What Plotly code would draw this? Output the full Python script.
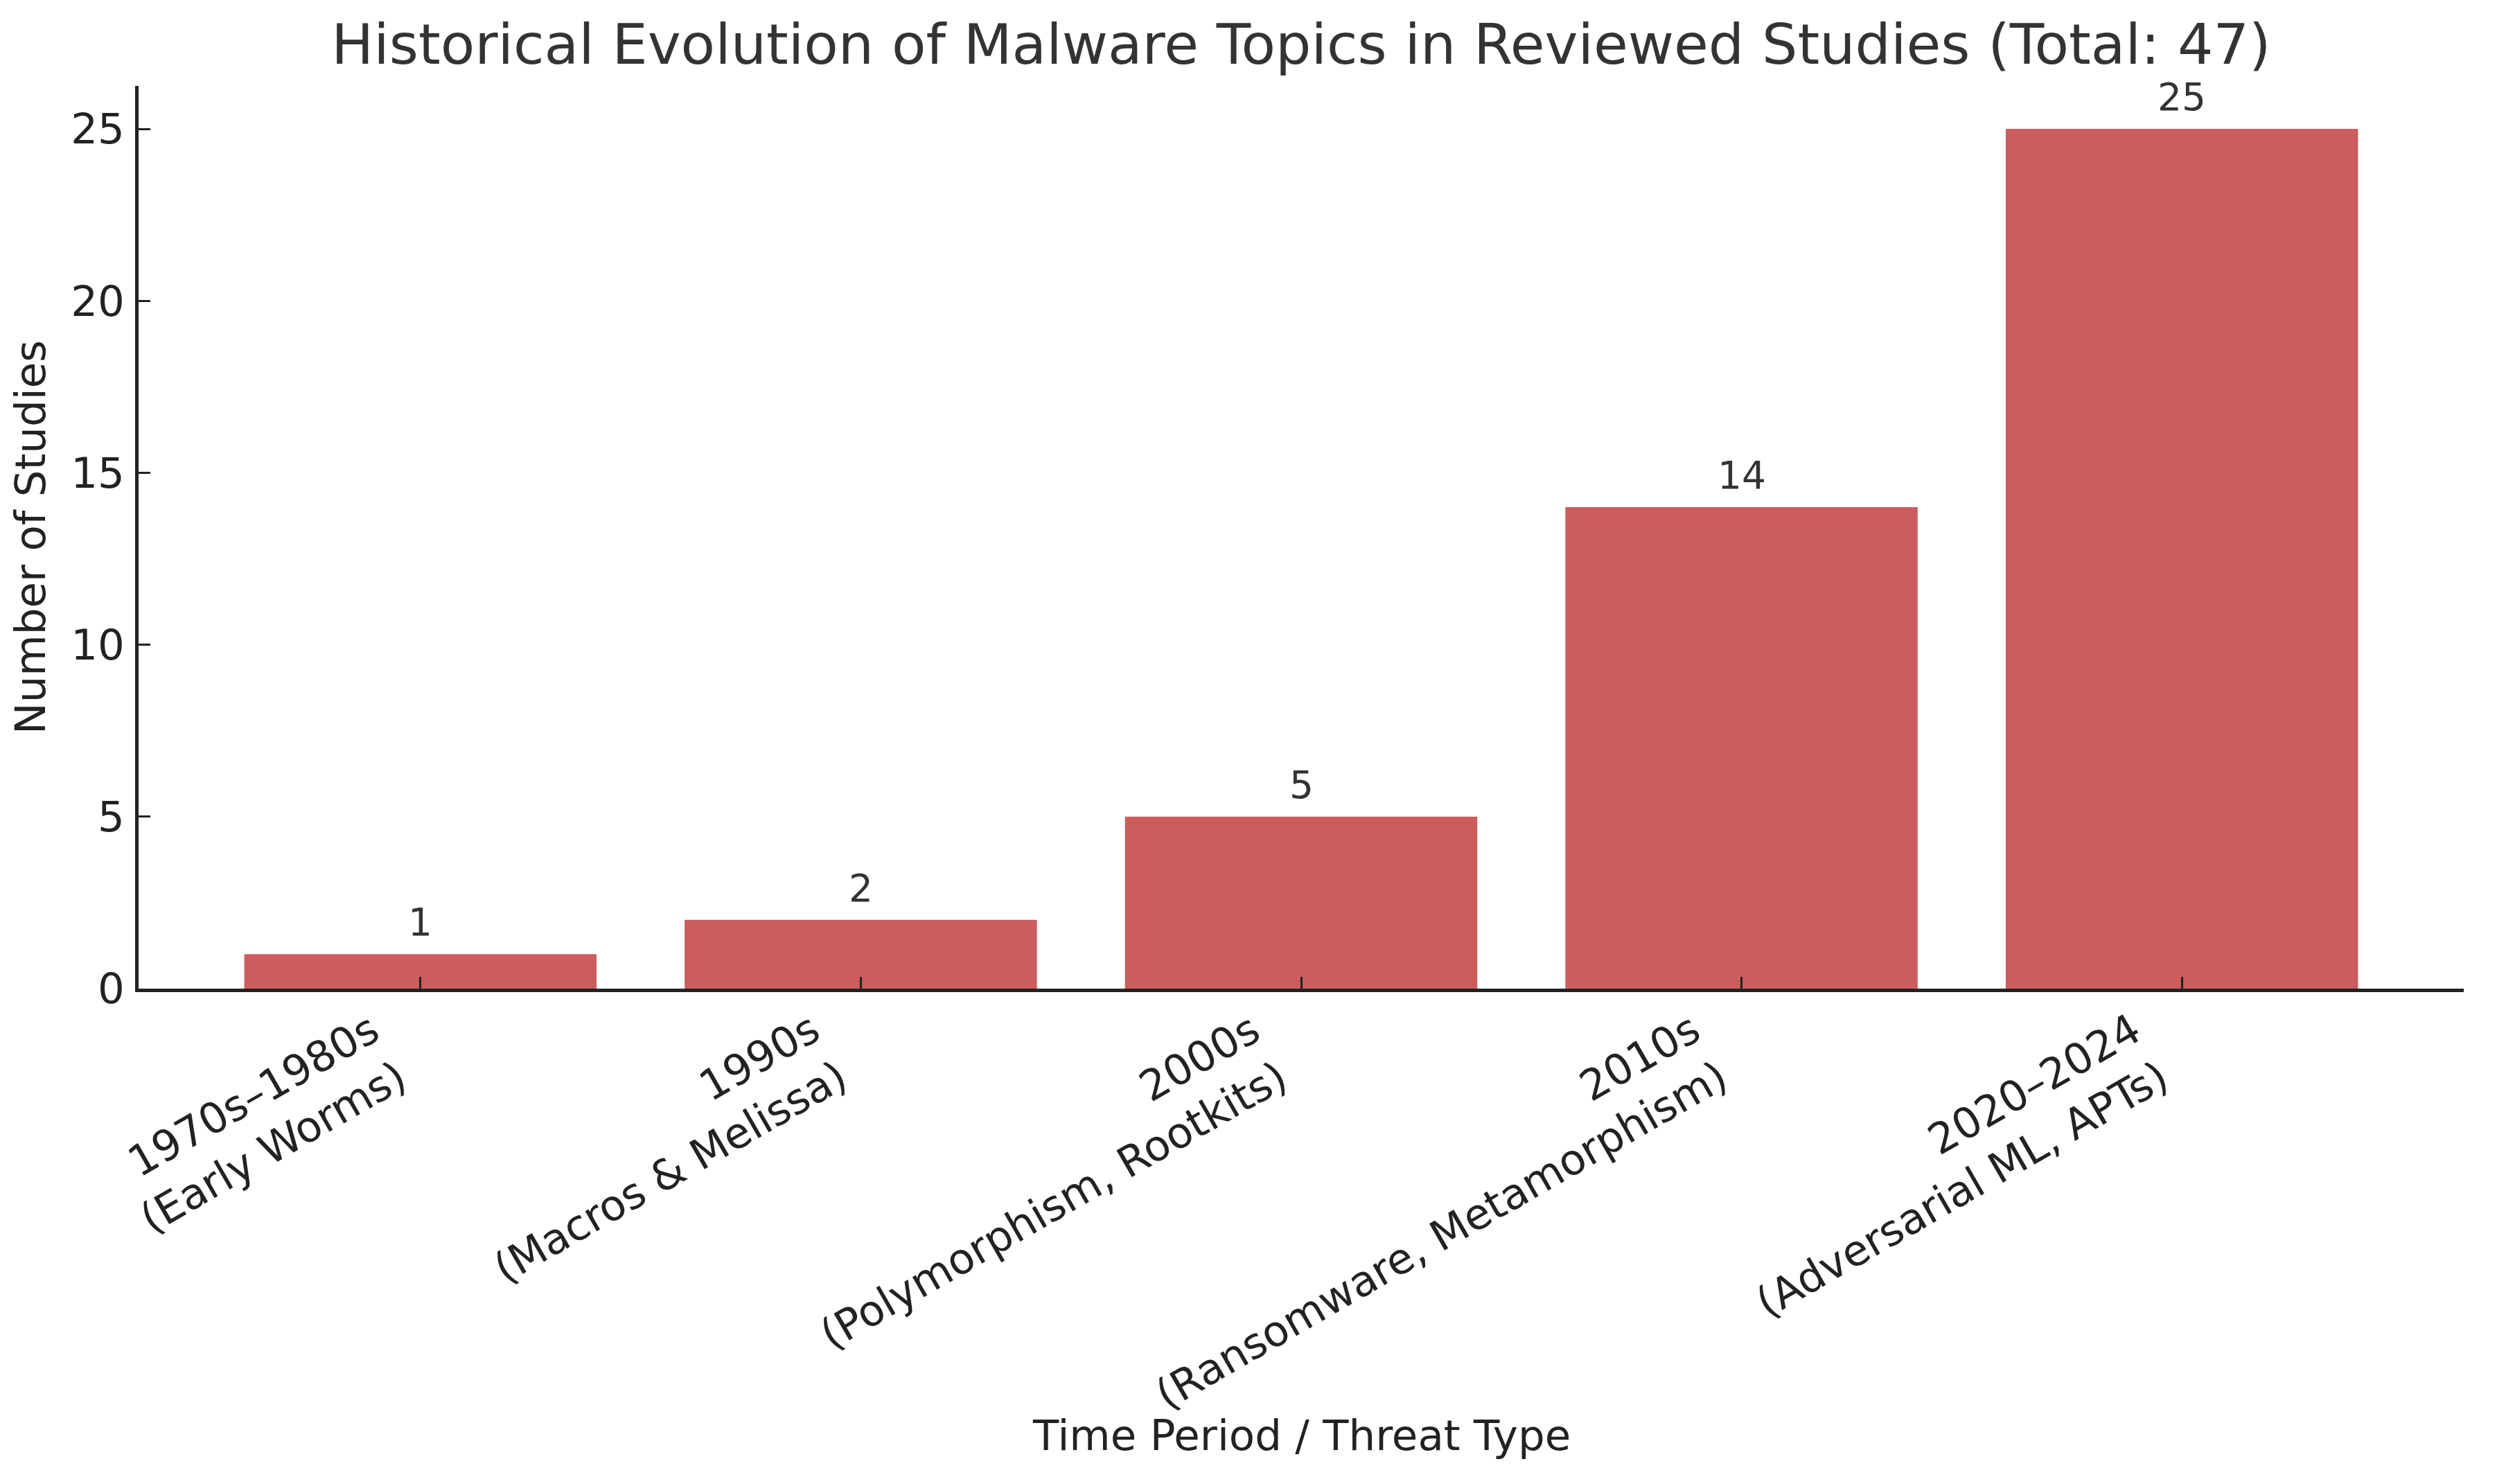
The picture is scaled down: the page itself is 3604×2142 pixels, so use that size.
import plotly.graph_objects as go

# Data
periods = [
    "1970s–1980s<br>(Early Worms)",
    "1990s<br>(Macros & Melissa)",
    "2000s<br>(Polymorphism, Rootkits)",
    "2010s<br>(Ransomware, Metamorphism)",
    "2020–2024<br>(Adversarial ML, APTs)",
]
study_counts = [1, 2, 5, 14, 25]
y_ticks = [0, 5, 10, 15, 20, 25]

total = sum(study_counts)
bar_color = "#CD5C5C"
font_family = "DejaVu Sans"
text_dark = "#222222"
label_size = 61

# page body has an 8px margin, so the figure is shrunk to fit the window
W, H, PAD = 3604, 2142, 8

fig = go.Figure(
    go.Bar(
        x=list(range(len(periods))),
        y=study_counts,
        width=0.8,
        marker=dict(color=bar_color, line=dict(width=0)),
    )
)

# value labels above bars
for i, v in enumerate(study_counts):
    fig.add_annotation(
        x=i, y=v, text=str(v), showarrow=False,
        yanchor="bottom", yshift=12,
        font=dict(family=font_family, size=55, color="#333333"),
    )

# rotated category labels, right/top anchored like matplotlib ha="right"
for i, lab in enumerate(periods):
    fig.add_annotation(
        x=i, xref="x", y=0, yref="paper", text=lab, showarrow=False,
        textangle=-30, align="right", xanchor="right", yanchor="top",
        xshift=-6, yshift=-19,
        font=dict(family=font_family, size=label_size, color=text_dark),
    )

# x axis title
fig.add_annotation(
    x=0.5, xref="paper", y=0, yref="paper", text="Time Period / Threat Type",
    showarrow=False, xanchor="center", yanchor="middle", yshift=-644,
    font=dict(family=font_family, size=label_size, color=text_dark),
)

fig.update_layout(
    width=W - 2 * PAD,
    height=H - 2 * PAD,
    margin=dict(l=200 - PAD, r=48 - PAD, t=124 - PAD, b=715 - PAD),
    paper_bgcolor="white",
    plot_bgcolor="white",
    showlegend=False,
    font=dict(family=font_family, size=label_size, color=text_dark),
    title=dict(
        text=f"Historical Evolution of Malware Topics in Reviewed Studies (Total: {total})",
        x=0.5 + (200 - 48) / 2 / (W - 2 * PAD),
        xanchor="center",
        y=1 - (64 - PAD) / (H - 2 * PAD),
        yanchor="middle",
        font=dict(family=font_family, size=81, color="#333333"),
    ),
)

fig.update_xaxes(
    range=[-0.64, len(periods) - 1 + 0.64],
    tickmode="array",
    tickvals=list(range(len(periods))),
    showticklabels=False,
    ticks="inside",
    ticklen=17,
    tickwidth=3,
    tickcolor=text_dark,
    showline=True,
    linecolor=text_dark,
    linewidth=5,
    showgrid=False,
    zeroline=False,
)

fig.update_yaxes(
    range=[0, 26.25],
    tickmode="array",
    tickvals=y_ticks,
    ticks="inside",
    ticklen=17,
    tickwidth=3,
    tickcolor=text_dark,
    ticklabelstandoff=3,
    showline=True,
    linecolor=text_dark,
    linewidth=5,
    showgrid=False,
    zeroline=False,
    title=dict(text="Number of Studies", standoff=22,
               font=dict(family=font_family, size=label_size, color=text_dark)),
)

fig.write_html("out.html")
